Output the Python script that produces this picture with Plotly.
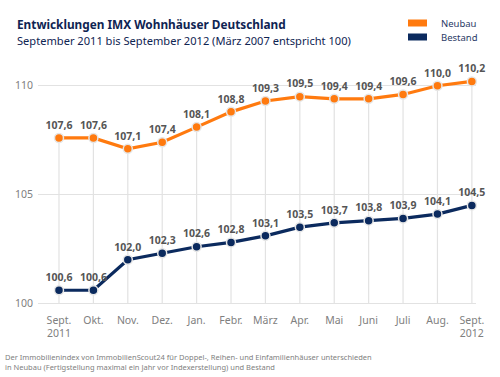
import plotly.graph_objects as go

months = ["Sept.<br>2011", "Okt.", "Nov.", "Dez.", "Jan.", "Febr.", "März",
          "Apr.", "Mai", "Juni", "Juli", "Aug.", "Sept.<br>2012"]
neubau = [107.6, 107.6, 107.1, 107.4, 108.1, 108.8, 109.3, 109.5, 109.4, 109.4, 109.6, 110.0, 110.2]
bestand = [100.6, 100.6, 102.0, 102.3, 102.6, 102.8, 103.1, 103.5, 103.7, 103.8, 103.9, 104.1, 104.5]
y_ticks = [100, 105, 110]

ORANGE = "#FF7A0F"
NAVY = "#0B2A5E"
FONT = "Noto Sans"

W, H = 500, 377
ML, MR, MT, MB = 38, 24, 64, 65

def fmt(v):
    return f"{v:.1f}".replace(".", ",")

x = list(range(len(months)))

# drop lines from Neubau points to the 100 baseline
dx, dy = [], []
for i, v in zip(x, neubau):
    dx += [i, i, None]
    dy += [y_ticks[0], v, None]

fig = go.Figure()
fig.add_trace(go.Scatter(x=dx, y=dy, mode="lines", line=dict(color="#E2E2E2", width=1.2),
                         hoverinfo="skip", showlegend=False))
for name, vals, col in [("Bestand", bestand, NAVY), ("Neubau", neubau, ORANGE)]:
    fig.add_trace(go.Scatter(
        x=x, y=vals, name=name, mode="lines+markers+text",
        line=dict(color=col, width=3.2),
        marker=dict(size=9, color=col, line=dict(color="#E6E6E6", width=1.5)),
        text=[fmt(v) for v in vals], textposition="top center",
        textfont=dict(family=FONT, size=10.5, color="#555555", weight="bold"),
        cliponaxis=False, showlegend=False))

fig.update_layout(
    width=W, height=H,
    margin=dict(l=ML, r=MR, t=MT, b=MB),
    paper_bgcolor="white", plot_bgcolor="white",
    font=dict(family=FONT, color="#777777"),
    xaxis=dict(range=[-0.61, 12.12], tickmode="array", tickvals=x, ticktext=months,
               showgrid=False, zeroline=False, showline=False, ticks="",
               tickfont=dict(size=10.5, color="#808080")),
    yaxis=dict(range=[99.6, 111], tickvals=y_ticks, showgrid=True, gridcolor="#E2E2E2",
               gridwidth=1.2, zeroline=False, showline=False, ticks="",
               tickfont=dict(size=10.5, color="#808080"), ticklabelstandoff=4),
)

pw, ph = W - ML - MR, H - MT - MB
def px2paper(px, py):
    return (px - ML) / pw, 1 - (py - MT) / ph

annos = [
    dict(px=15, py=24, text="<b>Entwicklungen IMX Wohnhäuser Deutschland</b>", size=11.8, color="#0F2452"),
    dict(px=15, py=41, text="September 2011 bis September 2012 (März 2007 entspricht 100)", size=11.1, color="#0F2452"),
    dict(px=439, py=23, text="Neubau", size=9.5, color="#2A3A66"),
    dict(px=439, py=37, text="Bestand", size=9.5, color="#2A3A66"),
    dict(px=3, py=357, text="Der Immobilienindex von ImmobilienScout24 für Doppel-, Reihen- und Einfamilienhäuser unterschieden", size=7.5, color="#808080"),
    dict(px=3, py=367, text="in Neubau (Fertigstellung maximal ein Jahr vor Indexerstellung) und Bestand", size=7.5, color="#808080"),
]
for a in annos:
    ax, ay = px2paper(a["px"], a["py"])
    fig.add_annotation(x=ax, y=ay, xref="paper", yref="paper",
                       text=a["text"], showarrow=False, xanchor="left", yanchor="middle",
                       font=dict(family=FONT, size=a["size"], color=a["color"]))

# legend swatches
for py, col in [(23, ORANGE), (37, NAVY)]:
    x0, y0 = px2paper(408, py - 3.5)
    x1, y1 = px2paper(427, py + 3.5)
    fig.add_shape(type="rect", xref="paper", yref="paper", x0=x0, x1=x1, y0=y1, y1=y0,
                  fillcolor=col, line=dict(width=0))

fig.write_html("out.html", config={"displayModeBar": False},
               post_script="document.body.style.margin='0';")
